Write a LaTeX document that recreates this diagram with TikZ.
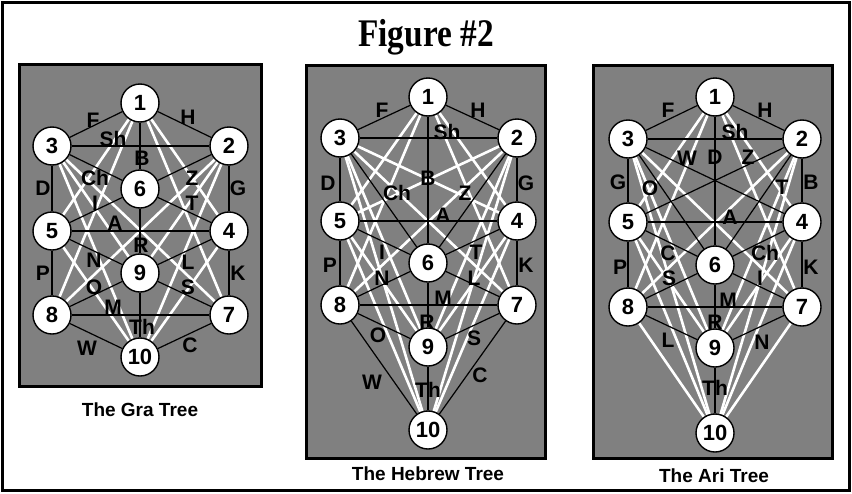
\documentclass[tikz,border=0pt]{standalone}
\usepackage{graphicx}
\usepackage{fontspec}
\setmainfont{Liberation Sans}
\newfontfamily\titlefont{Liberation Serif}
\pgfdeclarelayer{panel}
\pgfdeclarelayer{edges}
\pgfsetlayers{panel,edges,main}
\definecolor{panelgray}{RGB}{128,128,128}
\begin{document}
\begin{tikzpicture}[x=1pt,y=-1pt,
  sef/.style={circle, draw=black, fill=white, line width=1.4pt, minimum size=38pt, inner sep=0pt, font=\bfseries\fontsize{22}{22}\selectfont},
  lbl/.style={inner sep=0pt, font=\bfseries\fontsize{21}{21}\selectfont},
  treecaption/.style={inner sep=0pt, font=\bfseries\fontsize{19}{19}\selectfont},
  wline/.style={draw=white, line width=2.6pt},
  bline/.style={draw=black, line width=1.2pt},
  panelbox/.style={draw=black, line width=3pt, fill=panelgray}]
\useasboundingbox (0,0) rectangle (852,493);
\draw[line width=3pt] (2.5,2.5) rectangle (849.5,490.5);
\node[inner sep=0pt, font=\titlefont\bfseries\fontsize{34}{34}\selectfont] (title) at (426,37) {\scalebox{0.98}[1.15]{Figure \#2}};

\begin{pgfonlayer}{panel}
\draw[panelbox] (19,64) rectangle (261,386);
\draw[panelbox] (306,65) rectangle (545,458);
\draw[panelbox] (593,65) rectangle (832,458);
\end{pgfonlayer}

% ---------------- Gra tree ----------------
\node[sef] (g1) at (140,103) {1};
\node[sef] (g3) at (52,146) {3};
\node[sef] (g2) at (229,146) {2};
\node[sef] (g6) at (140,189) {6};
\node[sef] (g5) at (52,231) {5};
\node[sef] (g4) at (229,231) {4};
\node[sef] (g9) at (140,273) {9};
\node[sef] (g8) at (52,315) {8};
\node[sef] (g7) at (229,315) {7};
\node[sef] (g10) at (140,357) {10};
\begin{pgfonlayer}{edges}
\foreach \a/\b in {1/4,1/5,1/7,1/8,2/8,2/9,2/10,3/7,3/9,3/10,4/10,5/10}
  \draw[wline] (g\a) -- (g\b);
\foreach \a/\b in {1/3,1/2,3/2,1/6,3/6,2/6,3/5,2/4,5/6,6/4,5/4,6/9,5/9,4/9,5/8,4/7,8/9,9/7,8/7,9/10,8/10,7/10}
  \draw[bline] (g\a) -- (g\b);
\end{pgfonlayer}
\node[lbl] (gF) at (93,120) {F};
\node[lbl] (gH) at (188,117) {H};
\node[lbl] (gSh) at (113,139) {Sh};
\node[lbl] (gB) at (142,158) {B};
\node[lbl] (gCh) at (95,178) {Ch};
\node[lbl] (gZ) at (192,178) {Z};
\node[lbl] (gD) at (43,188) {D};
\node[lbl] (gG) at (238,188) {G};
\node[lbl] (gI) at (95,203) {I};
\node[lbl] (gT) at (192,203) {T};
\node[lbl] (gA) at (115,223) {A};
\node[lbl] (gR) at (141,245) {R};
\node[lbl] (gN) at (94,260) {N};
\node[lbl] (gL) at (188,262) {L};
\node[lbl] (gP) at (43,273) {P};
\node[lbl] (gK) at (238,273) {K};
\node[lbl] (gO) at (94,287) {O};
\node[lbl] (gS) at (188,287) {S};
\node[lbl] (gM) at (113,307) {M};
\node[lbl] (gTh) at (142,327) {Th};
\node[lbl] (gW) at (87,348) {W};
\node[lbl] (gC) at (190,345) {C};
\node[treecaption] (gcap) at (140,410) {The Gra Tree};

% ---------------- Hebrew tree ----------------
\node[sef] (h1) at (428,97) {1};
\node[sef] (h3) at (340,138) {3};
\node[sef] (h2) at (517,138) {2};
\node[sef] (h5) at (340,221) {5};
\node[sef] (h4) at (517,221) {4};
\node[sef] (h6) at (428,263) {6};
\node[sef] (h8) at (340,305) {8};
\node[sef] (h7) at (517,305) {7};
\node[sef] (h9) at (428,347) {9};
\node[sef] (h10) at (428,430) {10};
\begin{pgfonlayer}{edges}
\foreach \a/\b in {1/4,1/5,1/7,1/8,2/5,2/8,2/9,2/10,3/4,3/7,3/9,3/10,4/9,4/10,5/9,5/10}
  \draw[wline] (h\a) -- (h\b);
\foreach \a/\b in {1/3,1/2,3/2,1/6,3/6,2/6,3/5,2/4,5/4,5/6,4/6,5/8,4/7,8/6,6/7,6/9,8/7,8/9,9/7,9/10,8/10,7/10}
  \draw[bline] (h\a) -- (h\b);
\end{pgfonlayer}
\node[lbl] (hF) at (382,110) {F};
\node[lbl] (hH) at (478,110) {H};
\node[lbl] (hSh) at (447,132) {Sh};
\node[lbl] (hD) at (328,183) {D};
\node[lbl] (hG) at (526,183) {G};
\node[lbl] (hB) at (428,178) {B};
\node[lbl] (hCh) at (397,193) {Ch};
\node[lbl] (hZ) at (465,193) {Z};
\node[lbl] (hA) at (443,215) {A};
\node[lbl] (hI) at (382,252) {I};
\node[lbl] (hT) at (476,252) {T};
\node[lbl] (hP) at (330,265) {P};
\node[lbl] (hK) at (526,265) {K};
\node[lbl] (hN) at (382,278) {N};
\node[lbl] (hL) at (474,278) {L};
\node[lbl] (hM) at (443,298) {M};
\node[lbl] (hR) at (427,322) {R};
\node[lbl] (hO) at (378,335) {O};
\node[lbl] (hS) at (474,338) {S};
\node[lbl] (hW) at (372,382) {W};
\node[lbl] (hC) at (480,375) {C};
\node[lbl] (hTh) at (428,390) {Th};
\node[treecaption] (hcap) at (428,474) {The Hebrew Tree};

% ---------------- Ari tree ----------------
\node[sef] (a1) at (715,97) {1};
\node[sef] (a3) at (628,139) {3};
\node[sef] (a2) at (802,139) {2};
\node[sef] (a5) at (628,222) {5};
\node[sef] (a4) at (802,222) {4};
\node[sef] (a6) at (715,265) {6};
\node[sef] (a8) at (628,307) {8};
\node[sef] (a7) at (802,307) {7};
\node[sef] (a9) at (715,348) {9};
\node[sef] (a10) at (715,433) {10};
\begin{pgfonlayer}{edges}
\foreach \a/\b in {1/4,1/5,1/7,1/8,2/8,2/9,2/10,3/7,3/9,3/10,4/9,4/10,5/9,5/10,7/10,8/10}
  \draw[wline] (a\a) -- (a\b);
\foreach \a/\b in {1/3,1/2,3/2,1/6,3/4,2/5,3/6,2/6,3/5,2/4,5/4,5/6,4/6,5/8,4/7,6/8,6/7,6/9,8/7,8/9,9/7,9/10}
  \draw[bline] (a\a) -- (a\b);
\end{pgfonlayer}
\node[lbl] (aF) at (668,110) {F};
\node[lbl] (aH) at (765,110) {H};
\node[lbl] (aSh) at (735,132) {Sh};
\node[lbl] (aW) at (687,158) {W};
\node[lbl] (aD) at (715,157) {D};
\node[lbl] (aZ) at (748,157) {Z};
\node[lbl] (aG) at (618,182) {G};
\node[lbl] (aO) at (650,188) {O};
\node[lbl] (aT) at (782,187) {T};
\node[lbl] (aB) at (811,182) {B};
\node[lbl] (aA) at (730,217) {A};
\node[lbl] (aC) at (668,253) {C};
\node[lbl] (aCh) at (765,253) {Ch};
\node[lbl] (aP) at (620,267) {P};
\node[lbl] (aK) at (811,267) {K};
\node[lbl] (aS) at (669,278) {S};
\node[lbl] (aI) at (760,278) {I};
\node[lbl] (aM) at (728,300) {M};
\node[lbl] (aR) at (715,322) {R};
\node[lbl] (aL) at (668,340) {L};
\node[lbl] (aN) at (762,342) {N};
\node[lbl] (aTh) at (715,388) {Th};
\node[treecaption] (acap) at (714,476) {The Ari Tree};
\end{tikzpicture}
\end{document}
